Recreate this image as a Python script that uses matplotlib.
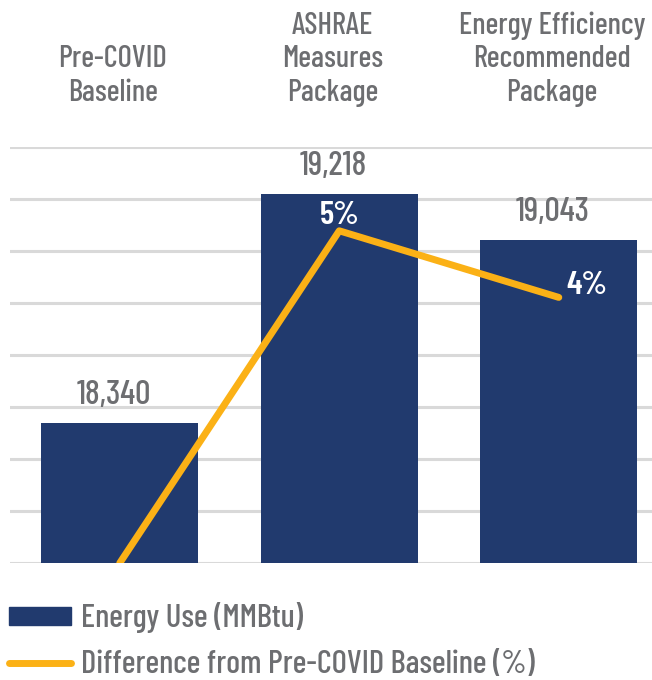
import matplotlib.pyplot as plt
from matplotlib.patches import Patch
from matplotlib.lines import Line2D

# chart data
categories = ["Pre-COVID\nBaseline", "ASHRAE\nMeasures\nPackage", "Energy Efficiency\nRecommended\nPackage"]
energy_use = [18340, 19218, 19043]
pct_diff = [0.0, 4.79, 3.83]
pct_labels = ["", "5%", "4%"]

navy = "#213a6e"
gold = "#fbb116"
grey = "#6d6e71"

plt.rcParams["font.family"] = ["Barlow Condensed", "DejaVu Sans"]
plt.rcParams["font.weight"] = "medium"

fig = plt.figure(figsize=(6.52, 6.8), dpi=100)
ax = fig.add_axes([0.0153, 0.172, 1.0, 0.612])
x = list(range(len(categories)))

ax.bar(x, energy_use, width=0.716, color=navy, zorder=2)
ax.set_ylim(17800, 19400)
ax.set_xlim(-0.5, 2.47)
ax.set_yticks(range(17800, 19401, 200))
ax.yaxis.grid(True, color="#d9d9d9", linewidth=2.2, zorder=0)
for s in ax.spines.values():
    s.set_visible(False)
ax.set_xticks([])

# category names above the plot
for xi, cat in zip(x, categories):
    ax.annotate(cat, (xi, 1), xycoords=("data", "axes fraction"), xytext=(-5, 29),
                textcoords="offset points", ha="center", va="bottom",
                fontsize=22, color=grey, linespacing=1.24)

for xi, v in zip(x, energy_use):
    ax.annotate(f"{v:,}", (xi, v), xytext=(-4.5, 13.5), textcoords="offset points",
                ha="center", va="baseline", fontsize=24.5, color=grey)

ax2 = ax.twinx()
ax2.set_ylim(0, 6)
ax2.plot(x, pct_diff, color=gold, linewidth=5, solid_capstyle="round", zorder=3)
ax2.axis("off")
ax2.text(x[1], pct_diff[1] + 0.22, pct_labels[1], ha="center", va="center",
         fontsize=24, color="white", fontweight="semibold")
ax2.text(x[2] + 0.13, pct_diff[2] + 0.17, pct_labels[2], ha="center", va="center",
         fontsize=24, color="white", fontweight="semibold")
# twinx turns the left ticks back on
ax.tick_params(axis="y", left=False, right=False, labelleft=False)

handles = [Patch(color=navy, label="Energy Use (MMBtu)"),
           Line2D([], [], color=gold, linewidth=5, solid_capstyle="round",
                  label="Difference from Pre-COVID Baseline (%)")]
fig.legend(handles=handles, loc="upper left", bbox_to_anchor=(0.014, 0.114),
           frameon=False, fontsize=23.5, labelcolor=grey, handlelength=1.9,
           handleheight=0.45, handletextpad=0.3, labelspacing=0.5, borderaxespad=0,
           borderpad=0)

fig.savefig("out.png", dpi=100)
